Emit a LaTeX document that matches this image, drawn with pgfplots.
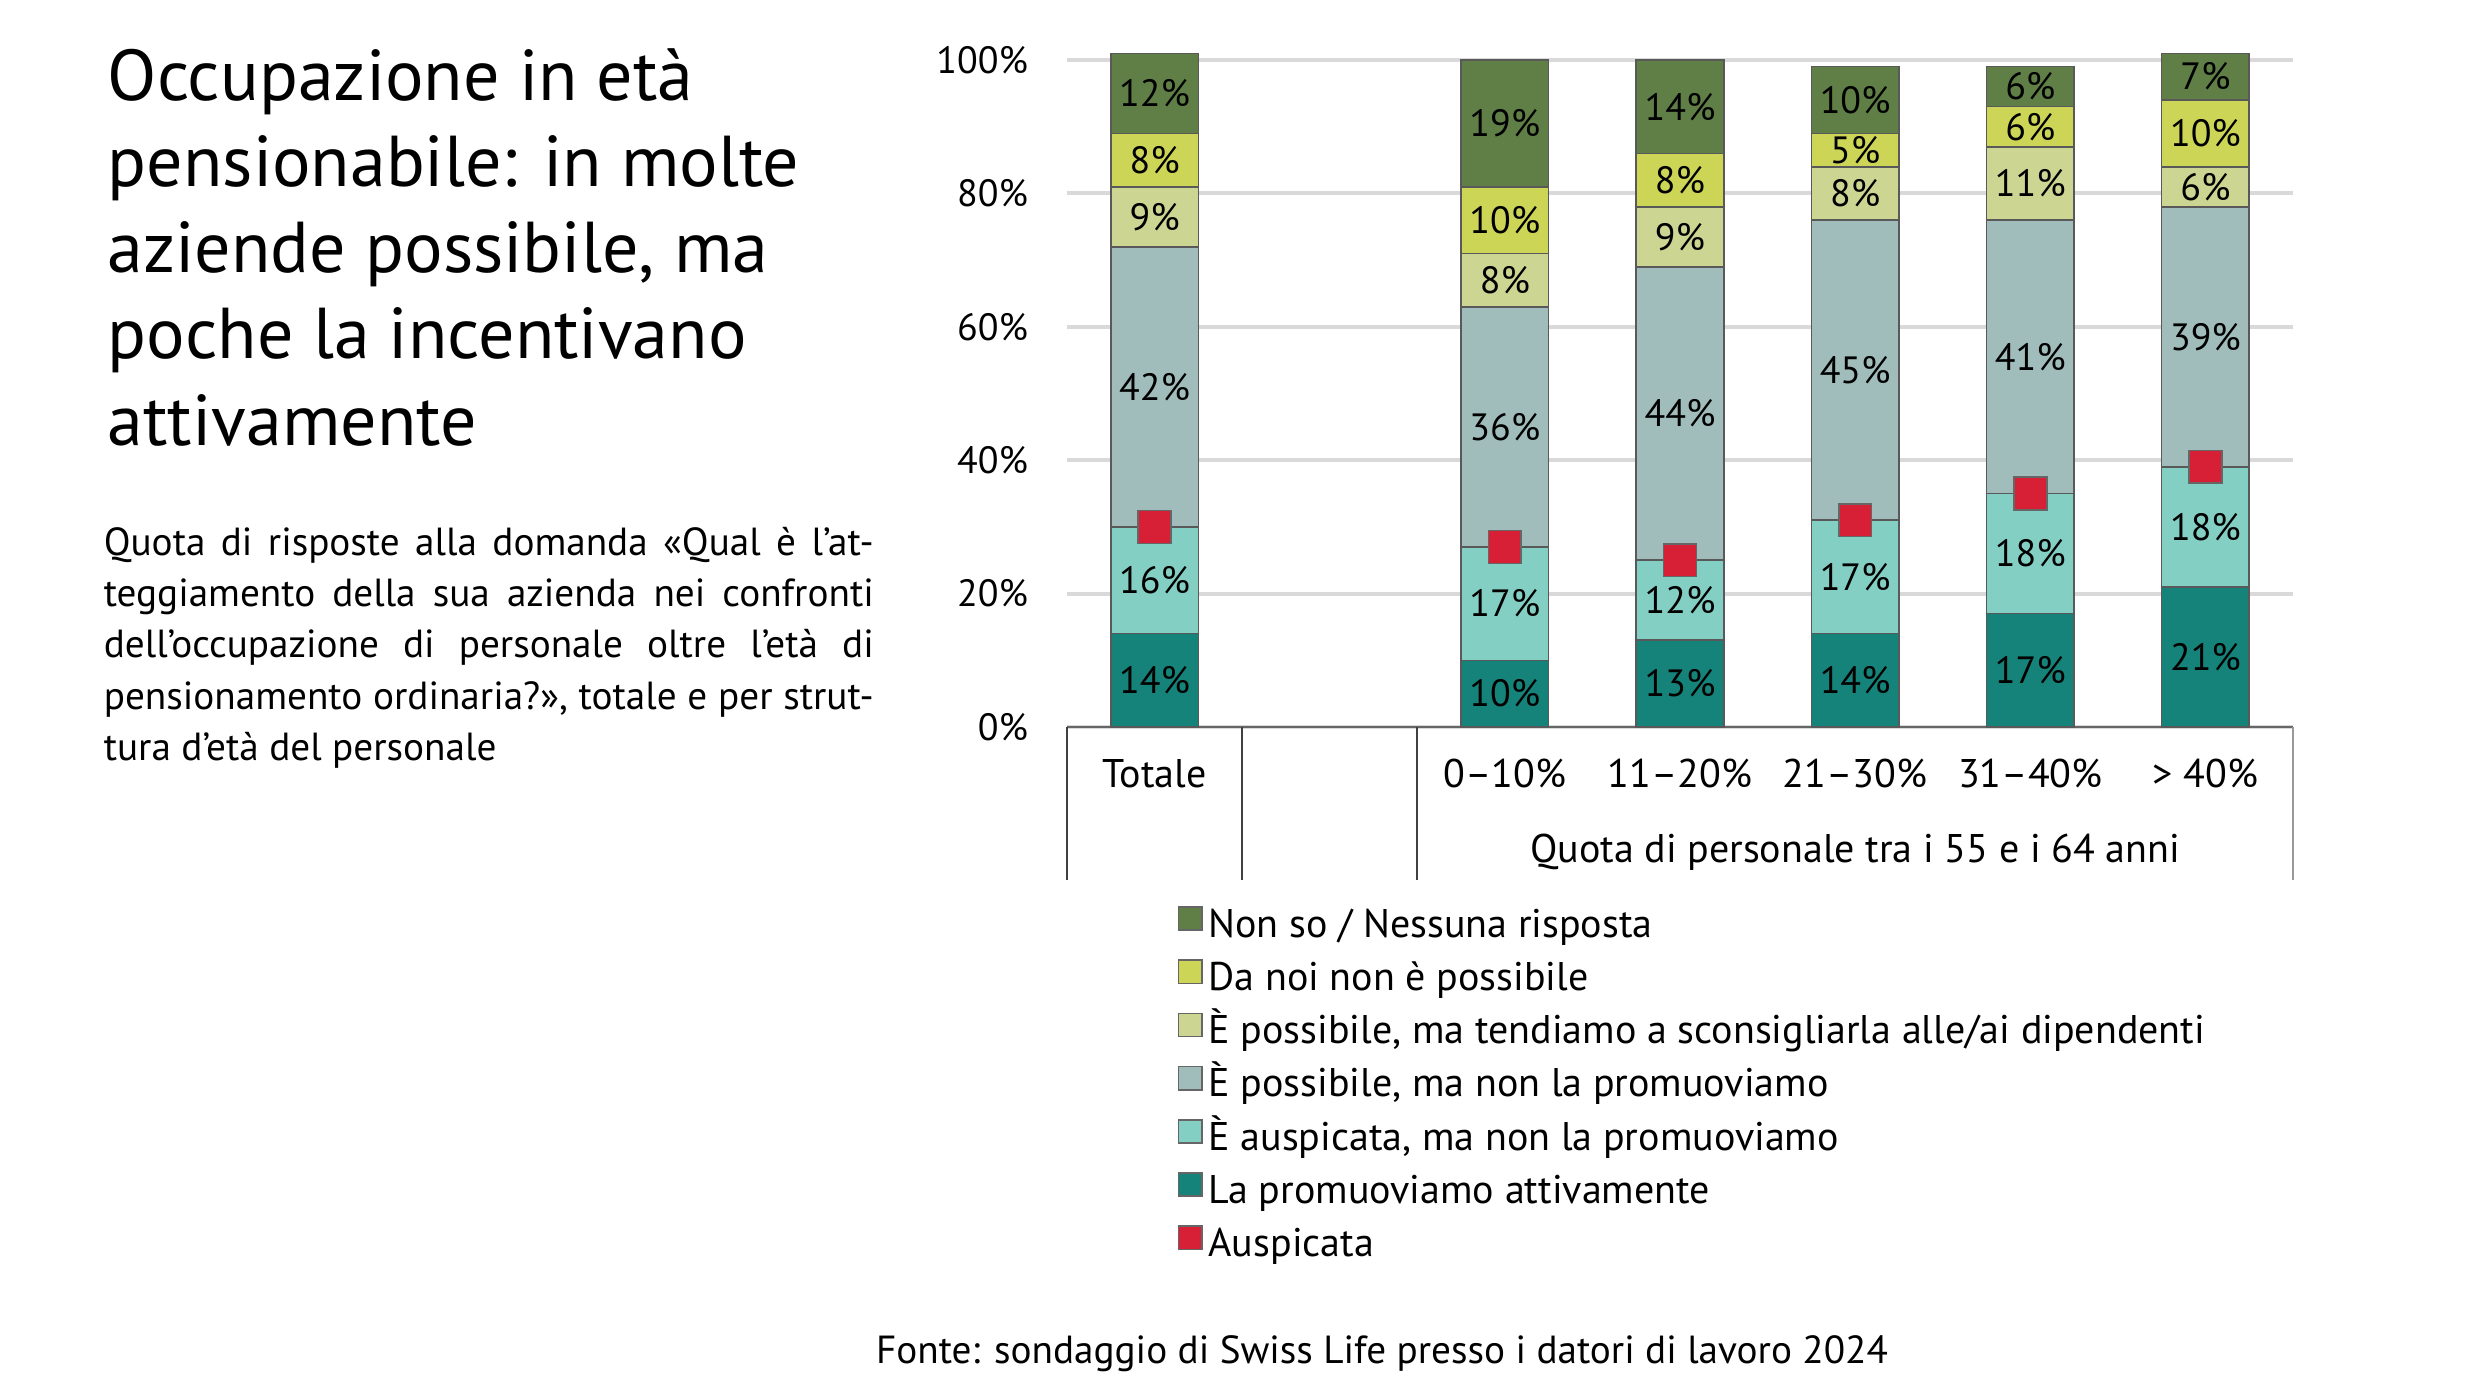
\documentclass[border=0pt]{standalone}
\usepackage{fontspec}
\setmainfont{PT Sans}
\usepackage{pgfplots}
\usepackage{pgfplotstable}
\pgfplotsset{compat=1.18}

\definecolor{cNonSo}{HTML}{5F7F47}
\definecolor{cNonPoss}{HTML}{CDD556}
\definecolor{cScons}{HTML}{CCD591}
\definecolor{cPoss}{HTML}{A0BDBC}
\definecolor{cAusp}{HTML}{84CFC4}
\definecolor{cAtt}{HTML}{16837A}
\definecolor{cRed}{HTML}{D71F36}

% shares per answer (bottom to top), x = category slot (1 is an empty gap)
\pgfplotstableread{
x  att  ausp  poss  scons  nonposs  nonso  tot
0  14   16    42    9      8        12     30
2  10   17    36    8      10       19     27
3  13   12    44    9      8        14     25
4  14   17    45    8      5        10     31
5  17   18    41    11     6        6      35
6  21   18    39    6      10       7      39
}\risposte

\newcommand\legsq[1]{\addlegendimage{legend image code/.code={\draw[fill=#1, draw=black!60, line width=0.4pt] (0pt,-0.3pt) rectangle (5.8pt,5.5pt);}}}

\begin{document}
\begin{tikzpicture}
\path[use as bounding box] (0,0) rectangle (620pt,348.75pt);

% title
\begin{scope}[every node/.style={anchor=base west, inner sep=0pt, font=\fontsize{18}{20}\selectfont}]
\node at (26.75pt,323.5pt) {Occupazione in età};
\node at (26.75pt,302pt) {pensionabile: in molte};
\node at (26.75pt,280.5pt) {aziende possibile, ma};
\node at (26.75pt,259pt) {poche la incentivano};
\node at (26.75pt,237.5pt) {attivamente};
\end{scope}

% subtitle
\begin{scope}[every node/.style={anchor=base west, inner sep=0pt, font=\fontsize{9.8}{11}\selectfont}]
\node at (25.75pt,210pt) {\makebox[192.5pt][s]{Quota di risposte alla domanda «Qual è l’at-}};
\node at (25.75pt,197.15pt) {\makebox[192.5pt][s]{teggiamento della sua azienda nei confronti}};
\node at (25.75pt,184.3pt) {\makebox[192.5pt][s]{dell’occupazione di personale oltre l’età di}};
\node at (25.75pt,171.45pt) {\makebox[192.5pt][s]{pensionamento ordinaria?», totale e per strut-}};
\node at (25.75pt,158.6pt) {tura d’età del personale};
\end{scope}

% source
\node[anchor=base, inner sep=0pt, font=\fontsize{9.8}{11}\selectfont] at (345.5pt,8pt)
  {Fonte: sondaggio di Swiss Life presso i datori di lavoro 2024};

\begin{axis}[
  at={(266.75pt,167pt)}, anchor=south west,
  scale only axis, width=306.5pt, height=166.75pt,
  xmin=-0.5, xmax=6.5, ymin=0, ymax=100,
  ybar stacked, bar width=0.5,
  axis x line*=bottom, axis y line*=left,
  x axis line style={draw=black!60, line width=0.5pt, -},
  y axis line style={draw=none},
  xtick={0,2,3,4,5,6},
  xticklabels={Totale,0–10\%,11–20\%,21–30\%,31–40\%,> 40\%},
  xtick style={draw=none}, ytick style={draw=none},
  ytick={0,20,...,100},
  yticklabel={\pgfmathprintnumber{\tick}\%},
  ymajorgrids, grid style={draw=black!15, line width=1pt},
  tick label style={font=\fontsize{9.5}{11}\selectfont},
  xticklabel style={anchor=base, yshift=-15pt, font=\fontsize{10}{11}\selectfont},
  yticklabel style={anchor=east, xshift=-6.25pt},
  /pgf/number format/assume math mode=true,
  clip=false,
  nodes near coords={\pgfmathprintnumber{\pgfplotspointmeta}\%},
  every node near coord/.append style={font=\fontsize{9.5}{10}\selectfont, anchor=center, text=black},
  every axis plot/.append style={draw=black!65, line width=0.4pt},
]
\addplot[fill=cAtt, forget plot]     table[x=x,y=att]{\risposte};
\addplot[fill=cAusp, forget plot]    table[x=x,y=ausp]{\risposte};
\addplot[fill=cPoss, forget plot]    table[x=x,y=poss]{\risposte};
\addplot[fill=cScons, forget plot]   table[x=x,y=scons]{\risposte};
\addplot[fill=cNonPoss, forget plot] table[x=x,y=nonposs]{\risposte};
\addplot[fill=cNonSo, forget plot]   table[x=x,y=nonso]{\risposte};

% category frame below the bars
\draw[black!75, line width=0.5pt] (axis cs:-0.5,0) -- ([yshift=-38.25pt]axis cs:-0.5,0);
\draw[black!75, line width=0.5pt] (axis cs:0.5,0) -- ([yshift=-38.25pt]axis cs:0.5,0);
\draw[black!75, line width=0.5pt] (axis cs:1.5,0) -- ([yshift=-38.25pt]axis cs:1.5,0);
\draw[black!40, line width=0.5pt] (axis cs:6.5,0) -- ([yshift=-38.25pt]axis cs:6.5,0);
\node[anchor=base, inner sep=0pt, font=\fontsize{10}{11}\selectfont]
  at ([yshift=-33.75pt]axis cs:4,0) {Quota di personale tra i 55 e i 64 anni};
\end{axis}

% "Auspicata" markers and legend
\begin{axis}[
  at={(266.75pt,167pt)}, anchor=south west,
  scale only axis, width=306.5pt, height=166.75pt,
  xmin=-0.5, xmax=6.5, ymin=0, ymax=100,
  hide axis, clip=false,
  legend style={at={(0.0897,-0.2675)}, anchor=north west, draw=none, fill=none,
    inner sep=0pt, row sep=3.35pt, column sep=1.5pt,
    font=\fontsize{10}{11}\selectfont,
    nodes={inner sep=0pt, text height=6.3pt, text depth=2.2pt}},
  legend cell align=left,
]
\addplot[only marks, mark=square*, mark size=4.1pt,
  mark options={fill=cRed, draw=black!60, line width=0.4pt}, forget plot]
  table[x=x,y=tot]{\risposte};
\legsq{cNonSo}\addlegendentry{Non so / Nessuna risposta}
\legsq{cNonPoss}\addlegendentry{Da noi non è possibile}
\legsq{cScons}\addlegendentry{È possibile, ma tendiamo a sconsigliarla alle/ai dipendenti}
\legsq{cPoss}\addlegendentry{È possibile, ma non la promuoviamo}
\legsq{cAusp}\addlegendentry{È auspicata, ma non la promuoviamo}
\legsq{cAtt}\addlegendentry{La promuoviamo attivamente}
\legsq{cRed}\addlegendentry{Auspicata}
\end{axis}
\end{tikzpicture}
\end{document}
